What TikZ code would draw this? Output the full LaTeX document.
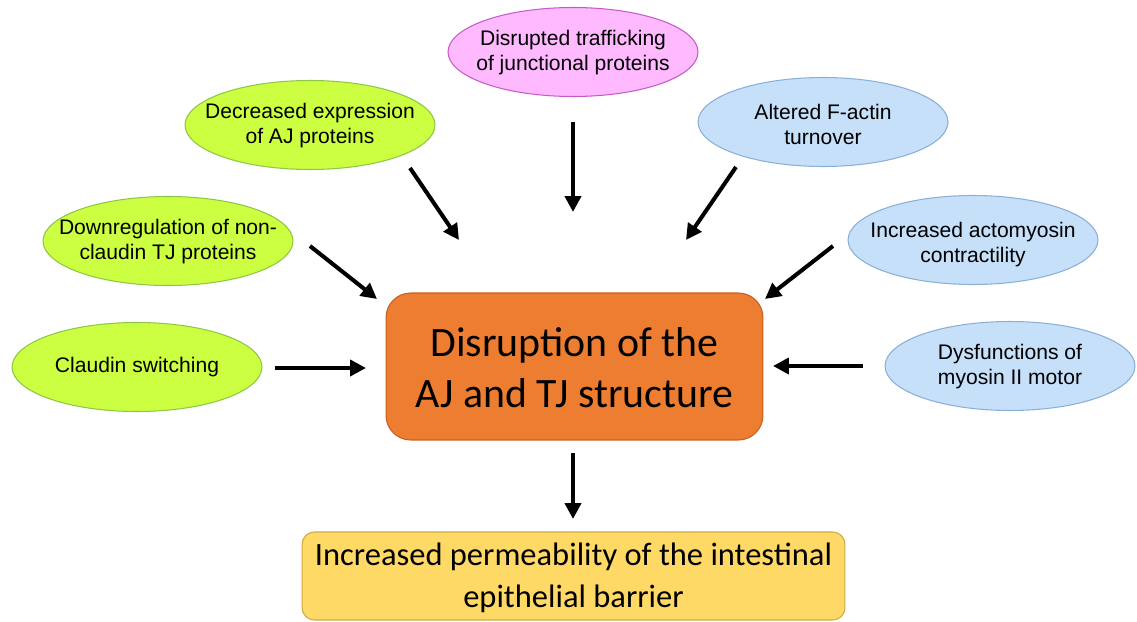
\documentclass[tikz,border=0pt]{standalone}
\usepackage{fontspec}
\setmainfont{Liberation Sans}
\newfontfamily\calfont{Carlito}
\usetikzlibrary{shapes.geometric,arrows.meta}
\definecolor{gfill}{RGB}{204,255,66}
\definecolor{gline}{RGB}{140,200,70}
\definecolor{pfill}{RGB}{255,185,255}
\definecolor{pline}{RGB}{200,90,200}
\definecolor{bfill}{RGB}{198,224,250}
\definecolor{bline}{RGB}{140,175,215}
\definecolor{ofill}{RGB}{237,125,49}
\definecolor{oline}{RGB}{200,95,30}
\definecolor{yfill}{RGB}{255,217,102}
\definecolor{yline}{RGB}{205,170,70}
\tikzset{
  oval/.style={ellipse, draw, line width=0.6pt, inner sep=0pt, minimum width=5cm, minimum height=1.78cm},
  greenoval/.style={oval, fill=gfill, draw=gline},
  pinkoval/.style={oval, fill=pfill, draw=pline},
  blueoval/.style={oval, fill=bfill, draw=bline},
  ovaltext/.style={align=center, font=\fontsize{12pt}{14.2pt}\selectfont, inner sep=0pt},
  arr/.style={line width=2.3pt, -{Triangle[length=9pt,width=9pt]}},
}
\begin{document}
\begin{tikzpicture}[x=0.02cm,y=-0.02cm]
\useasboundingbox (0,0) rectangle (1137,622);
% central box
\node[draw=oline, fill=ofill, rounded corners=14pt, line width=0.6pt, minimum width=7.54cm, minimum height=2.94cm, inner sep=0pt] (core) at (574.5,366.5) {};
\node[align=center, font=\calfont\fontsize{23.8pt}{29pt}\selectfont, inner sep=0pt] (coretext) at (574.5,368) {Disruption of the\\AJ and TJ structure};
% bottom box
\node[draw=yline, fill=yfill, rounded corners=7pt, line width=0.6pt, minimum width=10.86cm, minimum height=1.76cm, inner sep=0pt] (perm) at (573.5,576) {};
\node[align=center, font=\calfont\fontsize{18.5pt}{24pt}\selectfont, inner sep=0pt] (permtext) at (573.5,578) {Increased permeability of the intestinal\\epithelial barrier};
% ellipses
\node[greenoval] (dec) at (310,125) {};
\node[ovaltext] (dect) at (310,126) {Decreased expression\\of AJ proteins};
\node[greenoval] (down) at (168,241) {};
\node[ovaltext] (downt) at (168,242) {Downregulation of non-\\claudin TJ proteins};
\node[greenoval] (cla) at (137,367) {};
\node[ovaltext] (clat) at (137,367) {Claudin switching};
\node[pinkoval] (traf) at (573,52) {};
\node[ovaltext] (traft) at (573,53) {Disrupted trafficking\\of junctional proteins};
\node[blueoval] (act) at (823,122) {};
\node[ovaltext] (actt) at (823,124) {Altered F-actin\\turnover};
\node[blueoval] (myo) at (973,240) {};
\node[ovaltext] (myot) at (973,245) {Increased actomyosin\\contractility};
\node[blueoval] (dys) at (1010,366) {};
\node[ovaltext] (dyst) at (1010,367) {Dysfunctions of\\myosin II motor};
% arrow ends
\coordinate (a1s) at (275,368); \coordinate (a1e) at (366,368);
\coordinate (a2s) at (310,246); \coordinate (a2e) at (377,299);
\coordinate (a3s) at (410,168); \coordinate (a3e) at (459,240);
\coordinate (a4s) at (573,122); \coordinate (a4e) at (573,212);
\coordinate (a5s) at (736,167); \coordinate (a5e) at (686,240);
\coordinate (a6s) at (833,246); \coordinate (a6e) at (765,299);
\coordinate (a7s) at (863,366); \coordinate (a7e) at (773,366);
\coordinate (a8s) at (573,453); \coordinate (a8e) at (573,519);
\draw[arr] (a1s) -- (a1e);
\draw[arr] (a2s) -- (a2e);
\draw[arr] (a3s) -- (a3e);
\draw[arr] (a4s) -- (a4e);
\draw[arr] (a5s) -- (a5e);
\draw[arr] (a6s) -- (a6e);
\draw[arr] (a7s) -- (a7e);
\draw[arr] (a8s) -- (a8e);
\end{tikzpicture}
\end{document}
